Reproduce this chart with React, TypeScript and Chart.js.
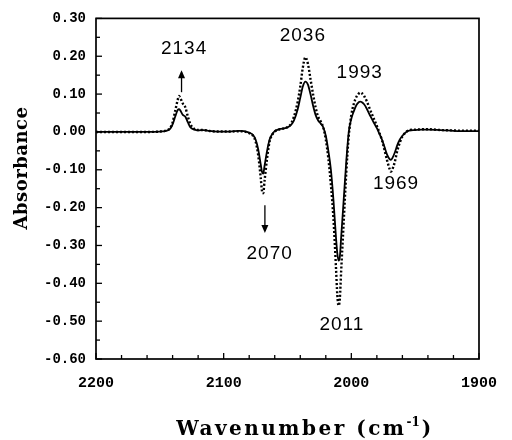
import React, { useEffect, useRef } from "react";
import { Chart, registerables } from "chart.js";

Chart.register(...registerables);

// Wavenumbers (cm^-1), shared by both traces
const wavenumbers = [
  2200, 2180, 2160, 2150, 2145, 2142, 2140, 2138, 2136, 2135, 2134, 2132, 2130, 2128, 2126, 2123, 2120, 2116,
  2112, 2105, 2095, 2088, 2084, 2080, 2077, 2075, 2073, 2071, 2070, 2069, 2068, 2066, 2064, 2062, 2060, 2056,
  2052, 2048, 2045, 2042, 2040, 2038, 2036, 2034, 2032, 2030, 2028, 2026, 2024, 2022, 2020, 2018, 2016, 2014,
  2012, 2011, 2010, 2009, 2008, 2006, 2004, 2002, 2000, 1998, 1996, 1994, 1993, 1992, 1990, 1988, 1986, 1984,
  1982, 1980, 1978, 1976, 1974, 1972, 1970, 1969, 1968, 1966, 1964, 1962, 1960, 1957, 1954, 1950, 1945, 1940,
  1930, 1920, 1910, 1900,
];

// Solid trace
const solidAbs = [
  0, 0, 0, 0.001, 0.003, 0.008, 0.02, 0.04, 0.058, 0.06, 0.057, 0.045, 0.04, 0.025, 0.012, 0.006, 0.004, 0.005,
  0.003, 0.001, 0.001, 0.003, 0.002, -0.002, -0.008, -0.02, -0.045, -0.085, -0.105, -0.11, -0.09, -0.05, -0.02, -0.006, 0.002, 0.008,
  0.01, 0.016, 0.03, 0.06, 0.09, 0.12, 0.133, 0.125, 0.1, 0.07, 0.045, 0.03, 0.022, 0.012, -0.01, -0.05, -0.1, -0.18,
  -0.28, -0.32, -0.34, -0.33, -0.28, -0.18, -0.08, 0.0, 0.035, 0.055, 0.071, 0.079, 0.08, 0.079, 0.073, 0.062, 0.048, 0.035,
  0.022, 0.01, -0.005, -0.02, -0.04, -0.06, -0.072, -0.074, -0.07, -0.055, -0.035, -0.02, -0.01, 0.0, 0.004, 0.005, 0.006, 0.006,
  0.005, 0.003, 0.002, 0.002,
];

// Dotted trace
const dottedAbs = [
  0, 0, 0, 0.001, 0.004, 0.01, 0.025, 0.055, 0.085, 0.095, 0.09, 0.075, 0.065, 0.04, 0.02, 0.008, 0.005, 0.005,
  0.003, 0.001, 0.001, 0.002, 0.001, -0.003, -0.01, -0.025, -0.06, -0.12, -0.155, -0.162, -0.13, -0.07, -0.025, -0.008, 0.001, 0.007,
  0.01, 0.018, 0.04, 0.08, 0.12, 0.17, 0.197, 0.18, 0.14, 0.1, 0.065, 0.04, 0.028, 0.012, -0.02, -0.07, -0.14, -0.23,
  -0.36, -0.43, -0.459, -0.44, -0.37, -0.24, -0.11, -0.01, 0.045, 0.075, 0.093, 0.102, 0.104, 0.103, 0.095, 0.082, 0.065, 0.048,
  0.032, 0.016, -0.002, -0.022, -0.048, -0.075, -0.098, -0.105, -0.1, -0.08, -0.05, -0.028, -0.012, 0.0, 0.005, 0.006, 0.007, 0.007,
  0.005, 0.004, 0.003, 0.003,
];

// Peak annotations
const peakLabels = ["2134", "2036", "1993", "1969", "2070", "2011"];
const peakLabelX = [2131, 2038, 1993.4, 1965, 2064, 2007.4];
const peakLabelY = [0.219, 0.254, 0.157, -0.136, -0.322, -0.509];

// Arrows (x position, start value, end value)
const arrowX = [2133, 2067.7];
const arrowFrom = [0.105, -0.194];
const arrowTo = [0.163, -0.267];

const xTitle = "Wavenumber (cm";
const xTitleSup = "-1";
const yTitle = "Absorbance";

const decorPlugin = {
  id: "decor",
  afterDatasetsDraw(chart: any) {
    const { ctx, chartArea: a, scales } = chart;
    const x = scales.x;
    const y = scales.y;
    ctx.save();
    ctx.strokeStyle = "#000";
    ctx.fillStyle = "#000";
    // frame
    ctx.lineWidth = 1.7;
    ctx.strokeRect(a.left, a.top, a.right - a.left, a.bottom - a.top);
    // inward ticks
    ctx.lineWidth = 1.3;
    x.ticks.forEach((t: any) => {
      const px = x.getPixelForValue(t.value);
      const major = Math.round(t.value) % 100 === 0;
      const len = major ? 6 : 4;
      ctx.beginPath();
      ctx.moveTo(px, a.bottom);
      ctx.lineTo(px, a.bottom - len);
      ctx.stroke();
    });
    y.ticks.forEach((t: any) => {
      const py = y.getPixelForValue(t.value);
      const major = Math.round(t.value * 100) % 10 === 0;
      const len = major ? 6 : 4;
      ctx.beginPath();
      ctx.moveTo(a.left, py);
      ctx.lineTo(a.left + len, py);
      ctx.stroke();
    });
    // peak labels
    ctx.font = "19px 'Liberation Sans', Arial, sans-serif";
    (ctx as any).letterSpacing = "1px";
    ctx.textAlign = "center";
    ctx.textBaseline = "middle";
    peakLabels.forEach((lab, i) => {
      ctx.fillText(lab, x.getPixelForValue(peakLabelX[i]), y.getPixelForValue(peakLabelY[i]));
    });
    (ctx as any).letterSpacing = "0px";
    // arrows
    ctx.lineWidth = 1.3;
    arrowX.forEach((ax, i) => {
      const px = x.getPixelForValue(ax);
      const y0 = y.getPixelForValue(arrowFrom[i]);
      const y1 = y.getPixelForValue(arrowTo[i]);
      const dir = y1 < y0 ? -1 : 1;
      ctx.beginPath();
      ctx.moveTo(px, y0);
      ctx.lineTo(px, y1 - dir * 2);
      ctx.stroke();
      ctx.beginPath();
      ctx.moveTo(px, y1);
      ctx.lineTo(px - 3.5, y1 - dir * 8);
      ctx.lineTo(px + 3.5, y1 - dir * 8);
      ctx.closePath();
      ctx.fill();
    });
    // axis titles
    ctx.textBaseline = "alphabetic";
    ctx.font = "bold 20px 'DejaVu Serif', serif";
    (ctx as any).letterSpacing = "2.5px";
    const w1 = ctx.measureText(xTitle).width;
    ctx.font = "bold 12px 'DejaVu Serif', serif";
    (ctx as any).letterSpacing = "0px";
    const w2 = ctx.measureText(xTitleSup).width;
    ctx.font = "bold 20px 'DejaVu Serif', serif";
    (ctx as any).letterSpacing = "2.5px";
    const w3 = ctx.measureText(")").width;
    const total = w1 + w2 + 2 + w3;
    let sx = 305 - total / 2;
    const by = 435;
    ctx.textAlign = "left";
    ctx.fillText(xTitle, sx, by);
    sx += w1;
    ctx.font = "bold 12px 'DejaVu Serif', serif";
    (ctx as any).letterSpacing = "0px";
    ctx.fillText(xTitleSup, sx, by - 9);
    sx += w2 + 2;
    ctx.font = "bold 20px 'DejaVu Serif', serif";
    ctx.fillText(")", sx, by);
    // y title
    ctx.save();
    ctx.translate(22, 168);
    ctx.rotate(-Math.PI / 2);
    ctx.textAlign = "center";
    ctx.textBaseline = "middle";
    ctx.font = "bold 18px 'DejaVu Serif', serif";
    (ctx as any).letterSpacing = "0.5px";
    ctx.fillText(yTitle, 0, 0);
    ctx.restore();
    ctx.restore();
  },
};

export default function App() {
  const ref = useRef<HTMLCanvasElement | null>(null);
  useEffect(() => {
    if (!ref.current) return;
    const solid = wavenumbers.map((w, i) => ({ x: w, y: solidAbs[i] }));
    const dotted = wavenumbers.map((w, i) => ({ x: w, y: dottedAbs[i] }));
    const chart = new Chart(ref.current, {
      type: "line",
      data: {
        datasets: [
          {
            label: "dotted",
            data: dotted,
            borderColor: "#000",
            borderWidth: 2.4,
            borderDash: [2, 2],
            pointRadius: 0,
            cubicInterpolationMode: "monotone",
            fill: false,
          },
          {
            label: "solid",
            data: solid,
            borderColor: "#000",
            borderWidth: 1.8,
            pointRadius: 0,
            cubicInterpolationMode: "monotone",
            fill: false,
          },
        ],
      },
      options: {
        responsive: false,
        animation: false,
        devicePixelRatio: 1,
        layout: { padding: { top: 16, right: 23, left: 0, bottom: 0 } },
        plugins: { legend: { display: false }, tooltip: { enabled: false } },
        scales: {
          x: {
            type: "linear",
            reverse: true,
            min: 1900,
            max: 2200,
            grid: { display: false, drawTicks: false },
            border: { display: false },
            afterFit: (s: any) => {
              s.height = 81;
            },
            ticks: {
              stepSize: 20,
              autoSkip: false,
              maxRotation: 0,
              padding: 15,
              color: "#000",
              font: { family: "'Liberation Mono', monospace", size: 15, weight: "bold" },
              callback: (v: any) => (Math.round(v) % 100 === 0 ? String(Math.round(v)) : ""),
            },
          },
          y: {
            min: -0.6,
            max: 0.3,
            grid: { display: false, drawTicks: false },
            border: { display: false },
            afterFit: (s: any) => {
              s.width = 96;
            },
            ticks: {
              stepSize: 0.05,
              autoSkip: false,
              padding: 10,
              color: "#000",
              font: { family: "'Liberation Mono', monospace", size: 14, weight: "bold" },
              callback: (v: any) => {
                const c = Math.round(v * 100);
                return c % 10 === 0 ? (c / 100).toFixed(2) : "";
              },
            },
          },
        },
      },
      plugins: [decorPlugin],
    });
    return () => chart.destroy();
  }, []);
  return (
    <div style={{ position: "absolute", left: 0, top: 0, width: 512, height: 440, background: "#fff" }}>
      <canvas ref={ref} width={512} height={440} />
    </div>
  );
}
